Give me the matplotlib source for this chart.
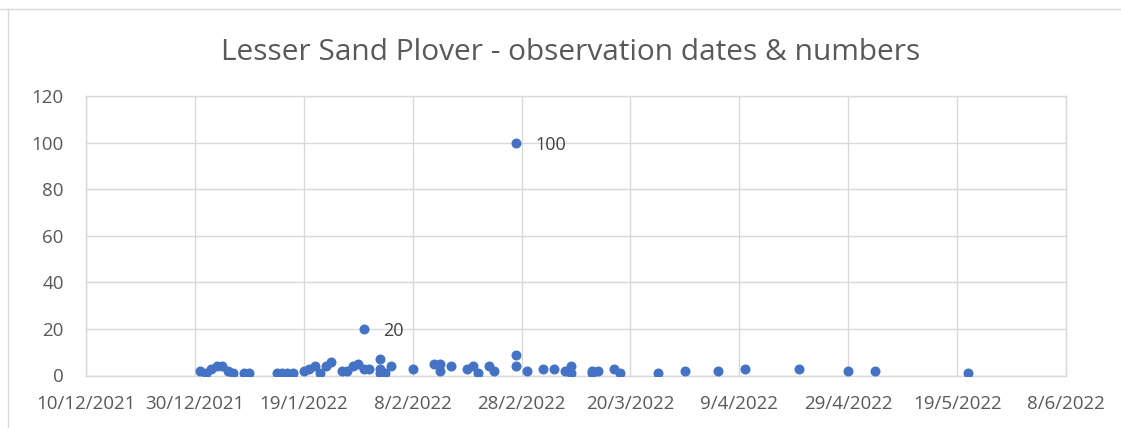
import matplotlib
matplotlib.use('Agg')
import matplotlib.pyplot as plt
from matplotlib.lines import Line2D
import numpy as np
import pandas as pd

# observation dates and bird counts
obs_dates = [
    '2021-12-31', '2022-01-01', '2022-01-02', '2022-01-03', '2022-01-04',
    '2022-01-05', '2022-01-06', '2022-01-08', '2022-01-09', '2022-01-14',
    '2022-01-15', '2022-01-16', '2022-01-17', '2022-01-19', '2022-01-20',
    '2022-01-21', '2022-01-22', '2022-01-23', '2022-01-24', '2022-01-26',
    '2022-01-27', '2022-01-28', '2022-01-29', '2022-01-30', '2022-01-30',
    '2022-01-31', '2022-02-02', '2022-02-02', '2022-02-02', '2022-02-03',
    '2022-02-04', '2022-02-08', '2022-02-12', '2022-02-13', '2022-02-13',
    '2022-02-15', '2022-02-18', '2022-02-19', '2022-02-20', '2022-02-22',
    '2022-02-23', '2022-02-27', '2022-02-27', '2022-02-27', '2022-03-01',
    '2022-03-04', '2022-03-06', '2022-03-08', '2022-03-09', '2022-03-09',
    '2022-03-13', '2022-03-13', '2022-03-14', '2022-03-17', '2022-03-18',
    '2022-03-25', '2022-03-30', '2022-04-05', '2022-04-10', '2022-04-20',
    '2022-04-29', '2022-05-04', '2022-05-21',
]
obs_counts = [
    2, 1, 3, 4, 4,
    2, 1, 1, 1, 1,
    1, 1, 1, 2, 3,
    4, 1, 4, 6, 2,
    2, 4, 5, 20, 3,
    3, 7, 1, 3, 1,
    4, 3, 5, 5, 2,
    4, 3, 4, 1, 4,
    2, 100, 9, 4, 2,
    3, 3, 2, 4, 1,
    2, 1, 2, 3, 1,
    1, 2, 2, 3, 3,
    2, 2, 1,
]
labelled_counts = [20, 100]

x_start = '2021-12-10'
x_end = '2022-06-08'

if __name__ == '__main__':

    plt.rcParams['font.family'] = ['Open Sans', 'DejaVu Sans']

    dates = pd.to_datetime(obs_dates)
    counts = np.array(obs_counts)

    fig = plt.figure(figsize=(11.21, 4.28), dpi=100)
    ax = fig.add_axes([86 / 1121, 52.5 / 428, 980 / 1121, 279.5 / 428])

    grid_col = '#d9d9d9'
    text_col = '#595959'

    ax.scatter(dates, counts, s=52, color='#4472C4', zorder=3, linewidths=0)

    # data labels for the two large counts
    for d, c in zip(dates, counts):
        if c in labelled_counts:
            ax.annotate(str(c), (d, c), xytext=(14, 0), textcoords='offset points',
                        va='center_baseline', ha='left', fontsize=13, color='#404040')

    ax.set_xlim(pd.Timestamp(x_start), pd.Timestamp(x_end))
    ax.set_ylim(0, 120)
    ax.set_yticks(np.arange(0, 121, 20))
    ticks = pd.date_range(x_start, x_end, freq='20D')
    ax.set_xticks(ticks)
    ax.set_xticklabels([f'{t.day}/{t.month}/{t.year}' for t in ticks])

    ax.grid(True, color=grid_col, linewidth=1)
    ax.set_axisbelow(True)
    for s in ax.spines.values():
        s.set_color(grid_col)
        s.set_linewidth(1)
    ax.tick_params(length=0, labelsize=13.5, labelcolor=text_col)
    ax.tick_params(axis='y', pad=16)
    ax.tick_params(axis='x', pad=14)

    fig.text(0.509, 0.878, 'Lesser Sand Plover - observation dates & numbers',
             ha='center', va='center', fontsize=21.5, color=text_col)

    # sheet edges visible around the chart in the screenshot
    fig.add_artist(Line2D([0, 1], [1 - 9 / 428, 1 - 9 / 428], color=grid_col, linewidth=1))
    fig.add_artist(Line2D([8 / 1121, 8 / 1121], [0, 1 - 9 / 428], color=grid_col, linewidth=1))

    fig.savefig('out.png', dpi=100)
